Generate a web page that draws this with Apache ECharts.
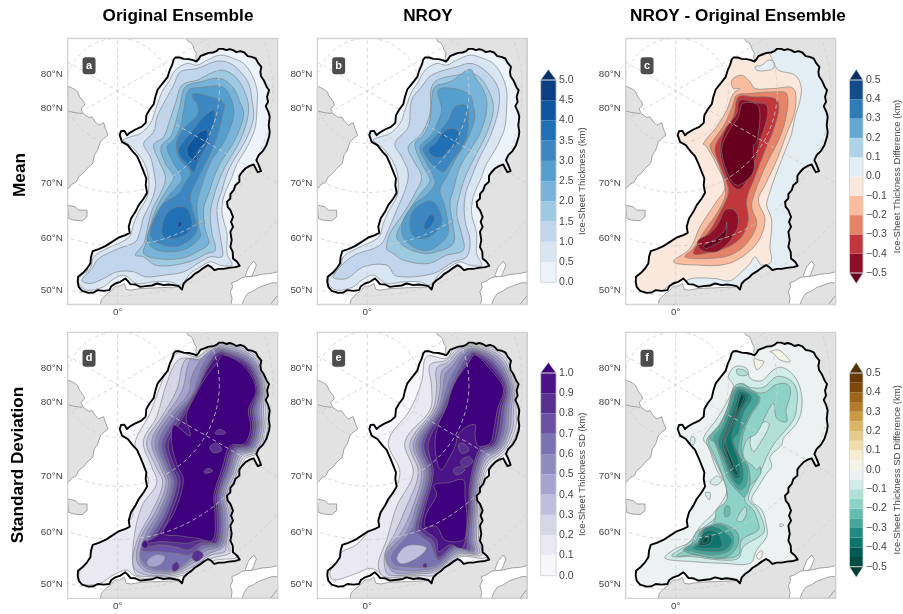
<!DOCTYPE html>
<html><head><meta charset="utf-8">
<style>html,body{margin:0;padding:0;background:#fff}#c{width:903px;height:614px}</style>
<script src="https://cdn.jsdelivr.net/npm/echarts@6/dist/echarts.min.js"></script>
</head><body><div id="c"></div>
<script>
// ---------- tick labels ----------
const latTicks = [222, 325, 548, 715, 870];
const latLabels = ['80°N', '80°N', '70°N', '60°N', '50°N'];
const lonTicks = [232];
const lonLabels = ['0°'];
const poleXY = [232, 272];
const circleRadii = [158, 305, 465, 615];
const spokes = [[[232, 100], [232, 930]], [[62, 174], [760, 577]], [[62, 370], [560, 82]]];

// ---------- colour bands (low to high) ----------
const bluesLevels = [0, 0.5, 1, 1.5, 2, 2.5, 3, 3.5, 4, 4.5, 5];
const bluesColors = ['#edf3fa', '#d8e6f4', '#c1d6ed', '#9ecae1', '#78b4d9', '#559fcf', '#3c87c2', '#2070b5', '#0e56a0', '#0b3e82'];
const bluesOver = '#08306b';
const rdbuLevels = [-0.5, -0.4, -0.3, -0.2, -0.1, 0, 0.1, 0.2, 0.3, 0.4, 0.5];
const rdbuColors = ['#8d1028', '#c1383c', '#e58368', '#f9bc9f', '#fae8dc', '#e3edf4', '#afd3e6', '#64a8d0', '#2f7bb6', '#134c88'];
const rdbuUnder = '#67001f', rdbuOver = '#053061';
const purpleLevels = [0, 0.1, 0.2, 0.3, 0.4, 0.5, 0.6, 0.7, 0.8, 0.9, 1];
const purpleColors = ['#f7f6fa', '#e9e8f3', '#d7d6e9', '#bfbfdd', '#a7a3ce', '#8e8bbf', '#7a73b3', '#6a51a3', '#58308f', '#4a1486'];
const purpleOver = '#3f007d';
const brbgLevels = [-0.5, -0.45, -0.4, -0.35, -0.3, -0.25, -0.2, -0.15, -0.1, -0.05, 0, 0.05, 0.1, 0.15, 0.2, 0.25, 0.3, 0.35, 0.4, 0.45, 0.5];
const brbgColors = ['#014d43', '#025c53', '#0e756c', '#228a81', '#45a69b', '#66bcae', '#8dd2c6', '#b0e0d8', '#d1ede9', '#ebf2f1', '#f5f3e8', '#f6edd3', '#f0dcac', '#e6cb8e', '#d9b566', '#ca9a45', '#b47b2a', '#9e641a', '#7e480c', '#683b07'];
const brbgUnder = '#003c30', brbgOver = '#543005';

// ---------- base map ----------
const iceOutline = [[400,178],[405,172],[418,172],[430,176],[445,177],[458,180],[468,184],[474,178],[480,168],[492,163],[505,158],[518,157],[528,153],[536,146],[548,146],[558,150],[568,147],[578,150],[588,156],[600,153],[612,157],[622,168],[634,170],[646,175],[653,188],[663,200],[660,215],[662,228],[670,240],[680,262],[686,270],[680,290],[683,305],[676,318],[684,335],[688,350],[685,375],[688,395],[686,410],[678,435],[668,452],[655,465],[648,480],[655,495],[662,513],[652,516],[646,505],[640,493],[628,497],[615,505],[604,517],[597,527],[597,545],[585,555],[580,570],[570,582],[570,595],[560,605],[562,620],[570,630],[578,650],[572,665],[578,680],[570,695],[574,720],[570,740],[577,755],[578,775],[590,785],[598,797],[585,801],[565,803],[550,806],[535,806],[522,810],[512,800],[503,795],[490,803],[478,812],[462,822],[452,832],[440,840],[430,850],[425,868],[415,858],[400,855],[385,853],[370,855],[350,850],[335,856],[315,858],[300,860],[285,853],[270,852],[262,842],[255,835],[240,845],[225,850],[213,858],[207,870],[190,872],[172,870],[160,877],[145,878],[125,872],[115,860],[112,845],[113,830],[128,818],[140,805],[150,790],[152,770],[157,753],[175,747],[195,738],[215,725],[235,712],[255,705],[268,698],[265,680],[272,655],[285,635],[295,615],[310,595],[320,578],[316,555],[318,535],[308,510],[300,490],[290,468],[278,455],[262,435],[245,425],[238,405],[242,393],[252,392],[260,405],[268,398],[285,388],[303,380],[316,368],[318,345],[328,328],[340,312],[345,290],[352,268],[368,248],[382,230],[388,210],[395,195]];
const landMain = [[712,115],[437,115],[445,125],[452,127],[458,137],[462,150],[468,158],[466,172],[470,185],[420,500],[420,860],[300,865],[272,870],[258,868],[252,850],[238,858],[225,858],[212,872],[195,885],[183,898],[180,913],[712,913]];
const landWest = [[82,258],[92,262],[103,268],[112,275],[118,290],[130,305],[133,315],[122,325],[128,340],[145,352],[155,350],[165,365],[175,375],[190,368],[195,385],[203,405],[190,415],[180,425],[172,450],[162,465],[157,490],[140,505],[130,518],[115,530],[108,545],[95,552],[82,567]];
const landIsland = [[82,615],[105,620],[115,630],[140,630],[140,650],[125,662],[100,660],[85,655]];
const seaBay = [[572,913],[575,895],[570,875],[577,860],[574,848],[590,842],[605,832],[615,830],[640,828],[665,822],[690,820],[712,815],[712,848],[695,848],[675,855],[655,862],[640,872],[622,880],[612,895],[605,913]];
const lake = [[615,825],[625,800],[640,783],[648,795],[640,815],[635,828],[618,830]];
const coastLines = [[[82,332],[100,337],[125,340]], [[690,913],[712,885]]];

// ---------- panel a: Original Ensemble mean (km) ----------
const contoursA = [
 [0.5,[[250,420],[270,410],[300,400],[330,370],[345,330],[365,275],[385,245],[405,210],[440,190],[470,195],[500,180],[540,165],[580,175],[610,190],[635,225],[650,270],[650,320],[645,380],[630,420],[615,450],[590,490],[575,530],[550,590],[545,640],[560,700],[560,760],[575,795],[540,795],[510,785],[480,800],[450,820],[420,855],[390,845],[340,845],[290,850],[250,825],[215,840],[190,860],[140,870],[115,850],[118,830],[150,805],[160,770],[200,745],[265,712],[280,670],[295,635],[320,590],[325,540],[312,490],[280,445]]],
 [1,[[310,430],[340,395],[350,350],[375,300],[400,255],[420,215],[470,205],[530,183],[570,190],[600,215],[625,250],[635,300],[640,350],[625,400],[605,440],[580,480],[560,520],[545,570],[530,620],[535,680],[545,740],[545,770],[510,770],[480,785],[430,815],[370,825],[315,830],[280,815],[230,815],[190,835],[150,850],[125,840],[155,805],[175,775],[235,745],[285,725],[300,690],[310,650],[330,610],[345,560],[340,510],[330,470]]],
 [1.5,[[340,435],[370,410],[385,370],[405,310],[425,255],[470,240],[540,210],[585,230],[615,280],[625,330],[610,395],[590,440],[565,480],[540,530],[520,590],[510,640],[515,700],[525,750],[500,760],[460,780],[400,795],[345,795],[310,770],[285,765],[310,730],[320,690],[335,630],[365,570],[375,530],[355,480]]],
 [2,[[362,440],[390,410],[405,370],[420,310],[435,260],[480,245],[540,235],[580,265],[600,310],[610,340],[595,395],[575,435],[545,480],[525,520],[505,580],[490,625],[495,690],[505,730],[470,755],[420,775],[350,775],[310,760],[320,720],[335,660],[355,610],[385,560],[400,530],[375,490]]],
 [2.5,[[380,440],[400,420],[420,380],[430,330],[445,270],[480,262],[545,260],[570,290],[580,340],[565,395],[545,435],[520,470],[500,510],[480,570],[470,610],[475,680],[480,710],[440,745],[390,755],[340,745],[320,715],[335,670],[360,620],[395,575],[425,535],[400,490]]],
 [3,[[408,445],[410,420],[430,385],[470,345],[472,315],[458,295],[460,280],[510,290],[550,310],[545,350],[530,410],[510,460],[490,500],[460,560],[450,590],[460,640],[470,690],[440,725],[400,740],[345,725],[330,700],[345,650],[370,610],[415,580],[430,555],[450,515],[420,480]]],
 [3.5,[[415,445],[450,400],[490,350],[520,330],[523,355],[510,395],[505,425],[475,480],[460,515],[440,490],[420,470]]],
 [3.5,[[365,680],[380,640],[410,620],[440,625],[455,670],[440,700],[400,715],[370,710]]],
 [4,[[440,445],[455,420],[480,395],[500,390],[500,420],[470,455],[470,480],[445,470]]],
 [4,[[412,670],[420,662],[425,675],[412,682]]]
];

// ---------- panel b: NROY mean (km) ----------
const contoursB = [
 [0.5,[[250,420],[270,410],[300,400],[330,370],[345,330],[365,275],[385,245],[405,210],[440,190],[470,195],[500,180],[540,165],[580,175],[610,190],[635,225],[650,270],[650,320],[645,380],[630,420],[615,450],[590,490],[575,530],[550,590],[545,640],[560,700],[560,760],[575,795],[540,795],[510,785],[480,800],[450,820],[420,855],[390,845],[340,845],[290,850],[250,825],[215,840],[190,860],[140,870],[115,850],[118,830],[150,805],[160,770],[200,745],[265,712],[280,670],[295,635],[320,590],[325,540],[312,490],[280,445]]],
 [1,[[315,430],[355,380],[365,300],[395,260],[425,225],[500,200],[545,190],[590,215],[625,265],[625,330],[600,410],[570,470],[545,530],[525,590],[525,660],[540,720],[530,770],[490,785],[430,820],[320,828],[290,795],[220,800],[170,835],[130,830],[185,770],[270,735],[295,690],[320,630],[345,570],[355,520],[335,470]]],
 [1.5,[[355,440],[395,400],[420,340],[430,250],[500,225],[560,225],[600,280],[610,330],[590,400],[560,460],[530,520],[510,580],[500,640],[515,700],[520,750],[470,765],[415,790],[340,780],[310,760],[290,745],[300,700],[340,640],[375,580],[395,530],[370,480]]],
 [2,[[375,430],[400,405],[420,360],[425,300],[435,260],[480,245],[540,207],[555,230],[585,280],[590,330],[570,400],[540,450],[510,500],[490,570],[480,610],[490,680],[490,730],[440,755],[400,760],[345,740],[320,710],[340,660],[370,610],[400,570],[420,540],[395,490]]],
 [2.5,[[390,440],[420,410],[435,385],[455,330],[445,270],[490,265],[540,285],[550,320],[555,350],[540,400],[520,440],[495,480],[470,530],[450,570],[465,620],[475,680],[470,710],[430,745],[395,750],[350,725],[335,690],[345,650],[375,610],[415,580],[435,545],[410,490]]],
 [3,[[400,445],[430,415],[475,360],[495,320],[530,318],[535,365],[530,410],[510,450],[480,490],[460,515],[430,495],[410,470]]],
 [3,[[360,680],[365,640],[395,610],[430,605],[455,650],[450,680],[420,710],[385,715],[365,700]]],
 [3.5,[[415,450],[440,425],[460,395],[490,385],[505,395],[505,425],[475,450],[455,470],[435,470]]],
 [3.5,[[402,675],[420,645],[432,648],[430,668],[410,688]]]
];

// ---------- panel c: mean difference (km), offset crop ----------
const contoursC = [
 [-0.1,[[145,400],[315,140],[405,178],[435,163],[475,160],[490,185],[505,210],[555,225],[573,258],[570,300],[555,350],[545,400],[530,440],[515,478],[495,530],[475,590],[470,615],[485,660],[480,740],[483,785],[455,795],[435,770],[420,790],[395,815],[360,842],[315,835],[245,835],[210,850],[193,845],[115,900],[15,900],[15,700]]],
 [0,[[435,200],[455,195],[475,180],[490,185],[490,205],[460,212],[440,210]]],
 [-0.2,[[365,240],[395,225],[420,245],[435,265],[490,265],[550,265],[555,330],[530,400],[500,480],[465,555],[445,600],[465,660],[440,730],[380,780],[330,795],[270,795],[190,785],[240,745],[270,680],[315,610],[345,560],[320,495],[290,440],[280,430],[320,380],[350,330],[370,280],[390,265],[370,265]]],
 [-0.3,[[380,285],[420,280],[500,275],[530,280],[530,340],[510,410],[470,490],[435,575],[425,620],[440,670],[410,730],[360,765],[290,775],[225,770],[250,745],[285,690],[320,640],[345,590],[345,560],[325,490],[300,440],[310,420],[345,370],[370,310]]],
 [-0.4,[[385,290],[430,290],[495,295],[507,320],[490,390],[465,450],[435,530],[410,600],[415,660],[395,710],[355,740],[285,760],[250,760],[265,730],[300,690],[325,645],[350,595],[355,565],[335,510],[315,445],[340,395],[370,350]]],
 [-0.5,[[390,300],[440,308],[470,315],[470,360],[450,420],[430,500],[395,565],[375,565],[350,530],[330,450],[345,390],[380,340]]],
 [-0.5,[[345,630],[370,628],[385,655],[375,700],[330,750],[285,755],[265,740],[265,720],[300,700],[325,670]]],
 [-0.6,[[398,310],[445,318],[442,420],[430,440],[430,515],[385,555],[360,535],[335,450],[355,395],[385,350]]],
 [-0.6,[[350,665],[345,710],[290,745],[280,738],[310,720],[345,690]]]
];

// ---------- panel d: Original Ensemble SD (km), offset crop ----------
const contoursD = [
 [0.1,[[665,97],[772,135],[800,225],[803,300],[803,350],[782,425],[735,447],[718,490],[690,560],[700,620],[690,715],[710,742],[640,752],[588,783],[520,802],[440,808],[400,795],[380,780],[340,795],[300,820],[245,822],[237,790],[275,705],[300,695],[395,625],[400,600],[445,515],[425,470],[405,400],[450,310],[480,230],[510,160],[535,128],[590,140],[625,115]]],
 [0.2,[[665,101],[768,139],[796,227],[797,300],[797,350],[777,422],[730,443],[712,488],[685,559],[694,619],[684,712],[690,730],[635,745],[585,775],[520,797],[440,800],[405,790],[400,700],[425,590],[470,520],[455,470],[430,395],[470,320],[500,220],[535,150],[590,143],[625,120]]],
 [0.3,[[665,105],[764,143],[793,229],[790,300],[792,350],[772,419],[725,438],[707,486],[679,559],[688,618],[678,709],[675,725],[629,737],[582,768],[520,792],[440,795],[400,770],[412,688],[458,600],[488,520],[468,470],[440,395],[485,320],[530,240],[555,150],[595,148],[628,125]]],
 [0.4,[[665,110],[760,147],[789,230],[784,300],[786,350],[766,417],[720,434],[701,483],[674,558],[682,617],[673,707],[629,730],[578,760],[520,788],[440,785],[410,750],[422,682],[468,602],[498,520],[480,470],[455,395],[495,320],[545,245],[570,150],[600,150],[632,130]]],
 [0.5,[[665,114],[756,151],[786,232],[777,300],[780,350],[761,414],[715,430],[696,481],[669,558],[676,616],[667,704],[618,722],[575,752],[520,784],[445,778],[420,750],[435,678],[478,604],[506,520],[488,470],[465,395],[505,322],[565,250],[575,200],[595,160],[610,140],[635,120]]],
 [0.6,[[667,118],[751,156],[782,233],[771,300],[775,350],[756,411],[710,425],[690,479],[663,557],[669,614],[661,701],[612,715],[572,745],[525,778],[445,770],[420,730],[447,675],[487,604],[514,518],[496,470],[475,400],[515,325],[575,255],[590,215],[605,170],[620,145],[640,124]]],
 [0.7,[[668,122],[747,160],[779,235],[764,300],[769,350],[751,408],[705,421],[685,477],[658,557],[663,613],[655,698],[607,707],[568,735],[530,730],[480,725],[425,720],[458,672],[497,604],[522,516],[504,470],[485,400],[525,328],[580,258],[597,220],[612,180],[630,150],[648,128]]],
 [0.8,[[669,126],[743,164],[775,237],[758,300],[763,350],[745,406],[700,417],[679,474],[653,556],[657,612],[650,696],[601,700],[565,720],[530,712],[480,705],[428,712],[468,672],[505,604],[530,514],[512,470],[495,400],[535,332],[588,240],[605,205],[622,170],[640,140],[652,130]]],
 [0.9,[[670,131],[739,168],[772,238],[751,300],[758,350],[740,403],[695,412],[674,472],[647,556],[651,611],[644,693],[596,692],[562,700],[530,698],[480,695],[432,700],[478,672],[515,604],[540,512],[522,468],[505,400],[540,338],[595,232],[612,195],[630,165],[650,140]]],
 [1,[[670,135],[735,172],[768,240],[745,300],[752,350],[735,400],[690,408],[668,470],[642,555],[645,610],[638,690],[590,685],[535,677],[490,670],[525,602],[550,510],[532,468],[515,400],[522,345],[570,378],[558,320],[585,258],[603,225],[625,190],[650,160]]],
 [0.8,[[645,368],[660,358],[677,370],[650,373]]],
 [0.8,[[630,410],[650,400],[665,420],[640,428]]],
 [0.8,[[612,485],[625,475],[638,483],[618,490]]],
 [0.4,[[440,755],[465,735],[495,740],[480,765],[450,770]]],
 [0.8,[[515,770],[530,755],[538,772],[522,785]]],
 [0.9,[[435,690],[445,705],[435,715],[425,705]]],
 [0.8,[[590,720],[610,735],[590,755],[575,740]]]
];

// ---------- panel e: NROY SD (km), offset crop ----------
const contoursE = [
 [0.1,[[545,103],[645,132],[680,225],[685,300],[685,352],[650,425],[598,470],[580,517],[572,600],[572,690],[588,742],[505,742],[430,810],[380,800],[300,808],[265,785],[240,775],[200,790],[130,810],[120,785],[150,730],[205,700],[285,590],[330,490],[295,395],[360,300],[395,215],[410,140],[470,145],[495,112]]],
 [0.2,[[546,107],[639,136],[676,226],[678,300],[677,354],[644,422],[594,463],[575,517],[568,600],[566,690],[575,735],[505,738],[435,795],[380,796],[300,803],[275,795],[265,760],[290,690],[320,590],[370,490],[345,395],[420,300],[425,230],[420,165],[470,150],[500,118]]],
 [0.3,[[547,110],[634,141],[671,227],[671,300],[668,356],[639,419],[591,456],[570,517],[563,600],[560,690],[568,730],[505,733],[437,785],[380,792],[320,797],[290,790],[285,730],[315,670],[345,600],[385,490],[360,400],[428,300],[440,235],[440,175],[475,155],[505,122]]],
 [0.4,[[548,114],[628,145],[667,228],[664,300],[660,358],[633,417],[587,449],[565,517],[559,600],[555,690],[560,728],[505,728],[440,778],[380,787],[320,790],[295,770],[288,725],[335,665],[365,600],[395,490],[370,400],[435,300],[450,240],[455,185],[482,160],[510,128]]],
 [0.5,[[549,117],[623,150],[662,229],[657,300],[652,360],[628,414],[583,442],[560,517],[554,600],[549,690],[553,725],[505,722],[443,770],[380,782],[330,780],[300,770],[292,730],[350,665],[375,600],[403,490],[378,400],[442,300],[458,245],[465,195],[490,165],[515,132]]],
 [0.6,[[551,121],[617,154],[658,231],[650,300],[643,362],[622,411],[580,436],[555,517],[550,600],[543,690],[548,722],[500,716],[445,762],[400,772],[350,770],[315,765],[305,735],[365,660],[383,600],[410,490],[386,400],[448,300],[465,250],[478,210],[500,170],[522,135]]],
 [0.7,[[552,124],[612,159],[653,232],[643,300],[635,364],[617,408],[576,429],[550,517],[545,600],[537,690],[540,720],[495,712],[445,750],[420,700],[395,680],[375,660],[390,600],[417,490],[394,400],[454,300],[472,255],[488,215],[510,172],[530,140]]],
 [0.8,[[553,128],[606,163],[649,233],[636,300],[627,366],[611,406],[572,422],[545,517],[541,600],[531,690],[530,718],[490,708],[445,742],[430,695],[400,672],[385,655],[397,600],[424,490],[402,400],[460,300],[478,250],[495,210],[520,170],[538,142]]],
 [0.9,[[554,131],[601,168],[644,234],[629,300],[618,368],[606,403],[569,415],[540,519],[536,600],[526,690],[515,715],[480,705],[445,725],[440,690],[410,665],[393,652],[403,600],[430,490],[415,400],[465,300],[483,245],[500,205],[530,165],[545,145]]],
 [1,[[555,135],[595,172],[640,235],[622,300],[610,370],[600,400],[565,408],[555,375],[556,345],[530,350],[505,375],[495,410],[480,440],[455,480],[445,470],[435,400],[445,345],[470,290],[485,240],[505,200],[535,160]]],
 [1,[[432,525],[475,518],[520,510],[525,560],[530,600],[530,650],[520,690],[465,690],[440,650],[405,650],[410,610],[440,555]]],
 [0.8,[[505,405],[520,400],[537,420],[515,430]]],
 [0.8,[[512,455],[535,440],[548,455],[525,472]]],
 [0.8,[[490,480],[510,470],[525,480],[500,495]]],
 [0.3,[[320,745],[345,710],[385,705],[410,715],[380,745],[335,762]]],
 [0.8,[[400,762],[410,760],[410,772],[400,772]]]
];

// ---------- panel f: SD difference (km), offset crop ----------
const contoursF = [
 [0,[[480,125],[505,120],[525,135],[540,155],[510,150],[490,130]]],
 [0,[[432,145],[445,150],[462,155],[445,178],[438,178]]],
 [0,[[440,735],[455,722],[455,740],[445,748]]],
 [0,[[510,642],[522,645],[510,650]]],
 [-0.1,[[355,200],[375,170],[410,175],[420,205],[455,212],[490,180],[515,172],[550,195],[572,240],[575,295],[560,340],[520,385],[515,405],[480,440],[485,470],[470,490],[445,530],[425,570],[455,600],[470,650],[470,680],[440,720],[420,760],[340,760],[250,755],[165,745],[190,720],[240,695],[270,650],[310,610],[345,560],[350,530],[320,480],[295,410],[280,385],[325,320],[370,230]]],
 [-0.1,[[300,518],[320,498],[335,510],[320,525]]],
 [-0.1,[[285,550],[300,548],[298,570]]],
 [-0.1,[[245,380],[255,385],[250,405],[240,400]]],
 [-0.15,[[380,178],[405,182],[412,195],[385,195]]],
 [-0.15,[[370,235],[395,220],[420,232],[460,232],[500,200],[540,210],[560,240],[560,290],[550,330],[505,385],[490,405],[470,440],[450,490],[415,565],[440,595],[460,640],[460,670],[400,710],[385,745],[330,750],[250,740],[185,738],[230,705],[265,665],[315,625],[350,580],[345,520],[305,430],[290,390],[330,345],[355,290]]],
 [-0.1,[[420,395],[430,365],[465,335],[478,345],[450,400],[430,425]]],
 [-0.2,[[375,228],[395,222],[440,248],[470,245],[495,225],[530,222],[542,245],[528,300],[530,335],[500,325],[490,280],[470,310],[440,370],[410,390],[400,440],[430,470],[440,480],[450,470],[450,495],[410,540],[405,575],[430,600],[445,640],[445,660],[395,690],[385,735],[330,745],[250,735],[200,738],[240,710],[260,665],[310,640],[320,600],[350,570],[345,520],[315,440],[295,390],[330,340],[355,290]]],
 [-0.15,[[380,630],[405,590],[410,610],[395,635]]],
 [-0.25,[[375,235],[410,235],[450,265],[420,320],[400,370],[395,430],[415,470],[420,520],[405,560],[385,545],[355,510],[340,470],[315,400],[300,385],[330,345],[350,300]]],
 [-0.25,[[270,665],[300,650],[330,640],[380,665],[385,700],[360,735],[320,745],[240,730],[220,720],[260,690]]],
 [-0.25,[[345,590],[358,590],[358,615],[345,620]]],
 [-0.3,[[380,235],[420,245],[445,265],[415,320],[390,380],[385,430],[410,470],[410,520],[390,540],[360,505],[345,465],[320,405],[310,385],[335,350],[355,300]]],
 [-0.3,[[275,665],[310,645],[345,650],[370,680],[360,720],[310,735],[250,725],[225,718],[265,695]]],
 [-0.35,[[385,240],[425,260],[400,310],[385,370],[370,390],[395,460],[400,505],[385,525],[362,495],[345,450],[325,395],[345,345],[365,290]]],
 [-0.35,[[280,660],[310,650],[340,665],[365,690],[345,720],[300,725],[250,715],[275,690]]],
 [-0.4,[[390,245],[415,260],[395,300],[375,345],[365,390],[385,450],[390,500],[375,505],[360,480],[340,430],[335,395],[355,340],[375,285]]],
 [-0.4,[[280,670],[305,660],[330,680],[335,710],[300,715],[265,710]]],
 [-0.45,[[392,250],[408,262],[385,310],[360,360],[345,400],[375,470],[385,495],[372,492],[350,440],[340,395],[365,330],[385,280]]],
 [-0.45,[[280,680],[305,675],[300,700],[270,705]]],
 [-0.5,[[392,255],[402,262],[375,320],[352,370],[345,395],[372,470],[365,470],[345,410],[345,385],[375,315]]],
 [-0.5,[[283,685],[295,682],[290,697],[278,700]]]
];

// ---------- layout ----------
const F = '"Liberation Sans", Arial, sans-serif', TXT = '#444';
const panels = [
 {x:67.7, y:38.5, name:'a', cs:contoursA, lv:bluesLevels, col:bluesColors, base:bluesColors[0], over:bluesOver, dx:0, dy:0, by:197},
 {x:317.3,y:38.5, name:'b', cs:contoursB, lv:bluesLevels, col:bluesColors, base:bluesColors[0], over:bluesOver, dx:0, dy:0, by:197},
 {x:625.7,y:38.5, name:'c', cs:contoursC, lv:rdbuLevels, col:rdbuColors, base:rdbuColors[5], dx:35, dy:0, by:197, under:rdbuUnder},
 {x:67.7, y:332.3,name:'d', cs:contoursD, lv:purpleLevels, col:purpleColors, base:purpleColors[0], over:purpleOver, dx:-121, dy:48, by:193},
 {x:317.3,y:332.3,name:'e', cs:contoursE, lv:purpleLevels, col:purpleColors, base:purpleColors[0], over:purpleOver, dx:0, dy:48, by:193},
 {x:625.7,y:332.3,name:'f', cs:contoursF, lv:brbgLevels, col:brbgColors, base:brbgColors[9], dx:35, dy:48, by:193, under:brbgUnder}
];
const bars = [
 {x:540.7,top:80,h:202.3,lv:bluesLevels,col:bluesColors,over:bluesOver,step:0.5,name:'Ice-Sheet Thickness (km)',gap:20},
 {x:849.5,top:80,h:193,lv:rdbuLevels,col:rdbuColors,over:rdbuOver,under:rdbuUnder,step:0.1,name:'Ice-Sheet Thickness Difference (km)',gap:29},
 {x:540.7,top:373,h:202.7,lv:purpleLevels,col:purpleColors,over:purpleOver,step:0.1,name:'Ice-Sheet Thickness SD (km)',gap:20},
 {x:849.5,top:373,h:193.7,lv:brbgLevels,col:brbgColors,over:brbgOver,under:brbgUnder,step:0.1,name:'Ice-Sheet Thickness SD Difference (km)',gap:29}
];

const grids=[], xAxes=[], yAxes=[], series=[];
function colorOf(p, level){
  if (level < p.lv[0]) return p.under;
  const i = p.lv.findIndex(v => Math.abs(v-level) < 1e-6);
  if (i >= p.col.length) return p.over;
  return p.col[i];
}
function layer(gi, items, draw, clip){
  series.push({type:'custom', xAxisIndex:gi, yAxisIndex:gi, clip:clip!==false, silent:true, animation:false,
    data:items.map((_,i)=>[i]), encode:{x:0,y:0}, dimensions:['i'],
    renderItem:(params,api)=>draw(items[params.dataIndex],api)});
}
const px = (pts,api,dx=0,dy=0)=>pts.map(p=>api.coord([p[0]+dx,p[1]+dy]));
const landStyle = {fill:'#e2e2e2', stroke:'#8e8e8e', lineWidth:0.8};
const gratStyle = {fill:'none',stroke:'rgba(208,208,208,0.95)',lineWidth:0.85,lineDash:[4,3]};

panels.forEach((p,gi)=>{
  grids.push({left:p.x, top:p.y, width:210, height:266, containLabel:false});
  xAxes.push({gridIndex:gi,type:'value',min:82,max:712,position:'bottom',splitLine:{show:false},axisLine:{show:false},axisTick:{show:false},
    axisLabel:{customValues:lonTicks,formatter:v=>lonLabels[lonTicks.indexOf(v)],color:TXT,fontFamily:F,fontSize:9.8,margin:3}});
  yAxes.push({gridIndex:gi,type:'value',min:115,max:913,inverse:true,position:'left',splitLine:{show:false},axisLine:{show:false},axisTick:{show:false},
    axisLabel:{customValues:latTicks,formatter:v=>latLabels[latTicks.indexOf(v)],color:TXT,fontFamily:F,fontSize:9.8,margin:5}});
  layer(gi,[{pts:landMain,f:landStyle},{pts:landWest,f:landStyle},{pts:landIsland,f:landStyle},
            {pts:seaBay,f:{fill:'#fff',stroke:'#8e8e8e',lineWidth:0.8}},{pts:lake,f:{fill:'#fff',stroke:'#8e8e8e',lineWidth:0.8}}],
    (it,api)=>({type:'polygon',shape:{points:px(it.pts,api)},style:it.f}));
  layer(gi,coastLines,(it,api)=>({type:'polyline',shape:{points:px(it,api)},style:{fill:'none',stroke:'#8e8e8e',lineWidth:0.8}}));
  layer(gi,[{pts:iceOutline}],(it,api)=>({type:'polygon',shape:{points:px(it.pts,api)},style:{fill:p.base,stroke:'none'}}));
  layer(gi,p.cs,(it,api)=>({type:'polygon',shape:{points:px(it[1],api,p.dx,p.dy),smooth:0.35},
     clipPath:{type:'polygon',shape:{points:px(iceOutline,api)}},
     style:{fill:colorOf(p,it[0]),stroke:'rgba(125,125,125,0.9)',lineWidth:0.7,lineJoin:'round'}}));
  layer(gi,circleRadii,(r,api)=>{const c=api.coord(poleXY);return{type:'circle',shape:{cx:c[0],cy:c[1],r:api.size([r,0])[0]},style:gratStyle}});
  layer(gi,spokes,(s,api)=>({type:'polyline',shape:{points:px(s,api)},style:gratStyle}));
  layer(gi,[{pts:iceOutline}],(it,api)=>({type:'polygon',shape:{points:px(it.pts,api)},style:{fill:'none',stroke:'#000',lineWidth:1.9,lineJoin:'round'}}));
  layer(gi,[{t:p.name}],(it,api)=>{const c=api.coord([146,p.by]);return{type:'group',children:[
     {type:'rect',shape:{x:c[0]-6.5,y:c[1]-8.5,width:13,height:17,r:3},style:{fill:'#4d4d4d'}},
     {type:'text',style:{text:it.t,x:c[0],y:c[1],fill:'#fff',font:'bold 11px '+F,textAlign:'center',textVerticalAlign:'middle'}}]}},false);
  layer(gi,[0],(it,api)=>{const a=api.coord([82,115]),b=api.coord([712,913]);return{type:'rect',shape:{x:a[0],y:a[1],width:b[0]-a[0],height:b[1]-a[1]},
     style:{fill:'none',stroke:'#d2d2d2',lineWidth:1.3}}},false);
});

bars.forEach((b,bi)=>{
  const gi=panels.length+bi, lo=b.lv[0], hi=b.lv[b.lv.length-1], tip=(hi-lo)*10.5/b.h;
  grids.push({left:b.x,top:b.top,width:15.4,height:b.h});
  xAxes.push({gridIndex:gi,type:'value',min:0,max:1,show:false});
  yAxes.push({gridIndex:gi,type:'value',min:lo,max:hi,interval:b.step,position:'right',splitLine:{show:false},axisLine:{show:false},axisTick:{show:false},
    name:b.name,nameLocation:'middle',nameRotate:90,nameGap:b.gap,nameTextStyle:{color:TXT,fontFamily:F,fontSize:9.5},
    axisLabel:{formatter:v=>v.toFixed(1).replace('-','\u2212'),color:TXT,fontFamily:F,fontSize:10.5,margin:3}});
  layer(gi,b.col.map((c,i)=>({c,a:b.lv[i],z:b.lv[i+1]})),(it,api)=>{const p=api.coord([0,it.z]),q=api.coord([1,it.a]);
     return{type:'rect',shape:{x:p[0],y:p[1],width:q[0]-p[0],height:q[1]-p[1]},style:{fill:it.c}}},false);
  const tips=[{c:b.over,e:hi,t:hi+tip}]; if(b.under) tips.push({c:b.under,e:lo,t:lo-tip});
  layer(gi,tips,(it,api)=>({type:'polygon',shape:{points:[api.coord([0,it.e]),api.coord([1,it.e]),api.coord([0.5,it.t])]},style:{fill:it.c,stroke:'#ccc',lineWidth:0.5}}),false);
  layer(gi,[0],(it,api)=>{const p=api.coord([0,hi]),q=api.coord([1,lo]);return{type:'rect',shape:{x:p[0],y:p[1],width:q[0]-p[0],height:q[1]-p[1]},style:{fill:'none',stroke:'#d0d0d0',lineWidth:0.8}}},false);
});

const titleStyle={fontFamily:F,fontSize:17.2,fontWeight:'bold',color:'#000'};
const titles=[['Original Ensemble',178],['NROY',428],['NROY - Original Ensemble',738]].map(([text,x])=>({text,left:x,top:8,padding:0,textAlign:'center',textStyle:titleStyle}));

const chart=echarts.init(document.getElementById('c'),null,{renderer:'canvas'});
chart.setOption({animation:false,backgroundColor:'#fff',title:titles,grid:grids,xAxis:xAxes,yAxis:yAxes,series,
  graphic:[
   {type:'text',x:20,y:175,rotation:Math.PI/2,style:{text:'Mean',font:'bold 17.2px '+F,fill:'#000',textAlign:'center',textVerticalAlign:'middle'}},
   {type:'text',x:18,y:465,rotation:Math.PI/2,style:{text:'Standard Deviation',font:'bold 17.2px '+F,fill:'#000',textAlign:'center',textVerticalAlign:'middle'}}
  ]});
</script></body></html>
